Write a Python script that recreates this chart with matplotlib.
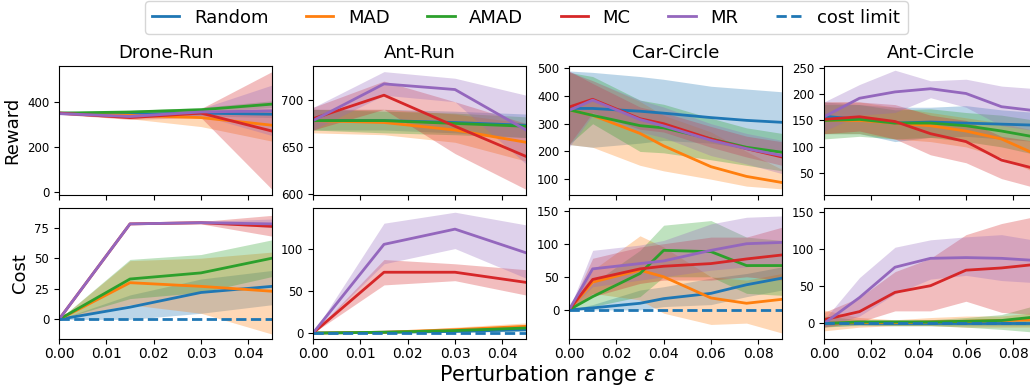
import matplotlib
matplotlib.use('Agg')
import matplotlib.pyplot as plt

methods = ['Random', 'MAD', 'AMAD', 'MC', 'MR']
colors = ['tab:blue', 'tab:orange', 'tab:green', 'tab:red', 'tab:purple']
envs = ['Drone-Run', 'Ant-Run', 'Car-Circle', 'Ant-Circle']

eps_run = [0.0, 0.015, 0.03, 0.045]
eps_car = [0.0, 0.01, 0.03, 0.04, 0.06, 0.075, 0.09]
eps_ant_circle = [0.0, 0.015, 0.03, 0.045, 0.06, 0.075, 0.09]

# ---- reward (mean, low, high) ----
drone_rew = {'Random': [350, 345, 350, 345], 'MAD': [350, 340, 330, 296], 'AMAD': [350, 355, 365, 390],
             'MC': [350, 330, 350, 270], 'MR': [348, 335, 355, 360]}
drone_rew_lo = {'Random': [345, 338, 338, 330], 'MAD': [345, 325, 290, 225], 'AMAD': [345, 348, 355, 375],
                'MC': [345, 322, 330, 10], 'MR': [343, 328, 340, 250]}
drone_rew_hi = {'Random': [355, 352, 360, 365], 'MAD': [355, 355, 360, 370], 'AMAD': [355, 362, 375, 405],
                'MC': [355, 338, 370, 535], 'MR': [353, 342, 370, 475]}

antrun_rew = {'Random': [678, 678, 676, 673], 'MAD': [678, 676, 668, 655], 'AMAD': [678, 678, 675, 672],
              'MC': [680, 705, 672, 640], 'MR': [678, 717, 711, 668]}
antrun_rew_lo = {'Random': [668, 668, 665, 660], 'MAD': [665, 663, 655, 635], 'AMAD': [668, 665, 663, 660],
                 'MC': [668, 690, 643, 605], 'MR': [668, 705, 698, 632]}
antrun_rew_hi = {'Random': [690, 690, 688, 685], 'MAD': [690, 690, 685, 675], 'AMAD': [690, 688, 686, 682],
                 'MC': [692, 720, 698, 675], 'MR': [692, 730, 723, 705]}

car_rew = {'Random': [355, 355, 345, 338, 322, 312, 305], 'MAD': [350, 330, 265, 220, 145, 110, 88],
           'AMAD': [350, 330, 293, 285, 245, 215, 197], 'MC': [360, 388, 318, 300, 245, 210, 180],
           'MR': [348, 385, 315, 292, 240, 210, 185]}
car_rew_lo = {'Random': [225, 215, 230, 240, 230, 210, 195], 'MAD': [225, 215, 150, 130, 100, 75, 65],
              'AMAD': [225, 300, 200, 195, 170, 150, 130], 'MC': [225, 340, 280, 270, 215, 180, 150],
              'MR': [215, 330, 270, 250, 185, 155, 120]}
car_rew_hi = {'Random': [490, 485, 470, 460, 435, 425, 415], 'MAD': [485, 455, 380, 330, 270, 200, 135],
              'AMAD': [485, 470, 385, 370, 320, 285, 265], 'MC': [490, 445, 360, 340, 290, 255, 235],
              'MR': [488, 455, 385, 360, 300, 265, 240]}

antc_rew = {'Random': [158, 152, 145, 147, 145, 143, 141], 'MAD': [150, 150, 145, 140, 130, 115, 85],
            'AMAD': [150, 152, 145, 145, 140, 130, 118], 'MC': [152, 157, 148, 125, 110, 75, 58],
            'MR': [157, 192, 204, 210, 201, 176, 168]}
antc_rew_lo = {'Random': [125, 125, 110, 118, 120, 115, 110], 'MAD': [125, 125, 115, 110, 100, 80, 50],
               'AMAD': [115, 120, 115, 118, 110, 100, 85], 'MC': [125, 130, 115, 85, 70, 40, 22],
               'MR': [130, 160, 165, 193, 175, 140, 130]}
antc_rew_hi = {'Random': [185, 180, 175, 175, 178, 170, 165], 'MAD': [185, 185, 175, 165, 155, 145, 130],
               'AMAD': [180, 180, 170, 172, 165, 160, 150], 'MC': [185, 185, 180, 160, 150, 120, 110],
               'MR': [185, 218, 245, 225, 228, 215, 210]}

# ---- cost (mean, low, high) ----
drone_cost = {'Random': [0, 10, 22, 27], 'MAD': [0, 30, 27, 23], 'AMAD': [0, 33, 38, 50],
              'MC': [0, 78, 79, 76], 'MR': [0, 78, 79, 78]}
drone_cost_lo = {'Random': [0, 0, 5, 12], 'MAD': [0, 12, 5, -12], 'AMAD': [0, 17, 22, 35],
                 'MC': [0, 78, 78, 68], 'MR': [0, 78, 79, 75]}
drone_cost_hi = {'Random': [0, 20, 33, 40], 'MAD': [0, 48, 50, 55], 'AMAD': [0, 49, 53, 65],
                 'MC': [0, 78, 80, 85], 'MR': [0, 78, 80, 82]}

antrun_cost = {'Random': [0, 1, 2, 4], 'MAD': [0, 1, 4, 8], 'AMAD': [0, 1, 3, 6],
               'MC': [0, 72, 72, 60], 'MR': [0, 105, 123, 95]}
antrun_cost_lo = {'Random': [0, 0, 1, 2], 'MAD': [0, 0, 2, 4], 'AMAD': [0, 0, 1, 3],
                  'MC': [0, 57, 62, 45], 'MR': [0, 82, 100, 65]}
antrun_cost_hi = {'Random': [0, 2, 4, 7], 'MAD': [0, 2, 7, 12], 'AMAD': [0, 2, 5, 9],
                  'MC': [0, 87, 82, 75], 'MR': [0, 130, 143, 128]}

car_cost = {'Random': [0, 3, 10, 17, 25, 38, 48], 'MAD': [0, 42, 60, 50, 18, 10, 16],
            'AMAD': [0, 20, 55, 90, 88, 67, 67], 'MC': [0, 46, 62, 66, 70, 77, 83],
            'MR': [0, 62, 70, 74, 90, 100, 102]}
car_cost_lo = {'Random': [0, 0, 0, 5, 8, 20, 30], 'MAD': [0, 25, 15, -5, -22, -20, -35],
               'AMAD': [0, 5, 20, 50, 50, 25, 22], 'MC': [0, 20, 40, 45, 45, 50, 45],
               'MR': [0, 35, 45, 50, 60, 65, 70]}
car_cost_hi = {'Random': [0, 8, 30, 35, 48, 55, 65], 'MAD': [0, 60, 112, 95, 50, 45, 55],
               'AMAD': [0, 40, 90, 128, 135, 110, 105], 'MC': [0, 78, 95, 100, 110, 110, 125],
               'MR': [0, 90, 98, 105, 130, 140, 142]}

antc_cost = {'Random': [0, 0, 0, 0, 0, 0, 0], 'MAD': [0, 1, 1, 2, 3, 4, 5],
             'AMAD': [0, 2, 2, 2, 3, 4, 9], 'MC': [5, 16, 42, 51, 72, 75, 80],
             'MR': [0, 35, 76, 88, 89, 88, 85]}
antc_cost_lo = {'Random': [-4, -3, -3, -3, -3, -3, -3], 'MAD': [-10, -5, -3, -3, -5, -5, -5],
                'AMAD': [-5, -2, -3, -3, -5, -8, -12], 'MC': [-5, 2, 17, 17, 30, 15, 12],
                'MR': [-5, 10, 40, 60, 65, 58, 55]}
antc_cost_hi = {'Random': [4, 3, 3, 5, 5, 4, 4], 'MAD': [18, 8, 5, 8, 10, 10, 15],
                'AMAD': [10, 5, 5, 5, 8, 12, 25], 'MC': [15, 35, 70, 88, 120, 135, 145],
                'MR': [5, 62, 103, 113, 117, 120, 112]}

eps_list = [eps_run, eps_run, eps_car, eps_ant_circle]
rew = [(drone_rew, drone_rew_lo, drone_rew_hi), (antrun_rew, antrun_rew_lo, antrun_rew_hi),
       (car_rew, car_rew_lo, car_rew_hi), (antc_rew, antc_rew_lo, antc_rew_hi)]
cost = [(drone_cost, drone_cost_lo, drone_cost_hi), (antrun_cost, antrun_cost_lo, antrun_cost_hi),
        (car_cost, car_cost_lo, car_cost_hi), (antc_cost, antc_cost_lo, antc_cost_hi)]

rew_ylim = [(-15, 560), (599, 736), (43, 508), (9, 253)]
cost_ylim = [(-16, 91), (-7, 148), (-44, 154), (-21, 156)]
xlims = [(0, 0.045), (0, 0.045), (0, 0.09), (0, 0.09)]
xticks = [[0, 0.01, 0.02, 0.03, 0.04]] * 2 + [[0, 0.02, 0.04, 0.06, 0.08]] * 2

fig = plt.figure(figsize=(10.3, 3.85), dpi=100)
W, H = 1030, 385
lefts = [59, 313, 569, 824]
aw = 213

for j in range(4):
    ax_r = fig.add_axes([lefts[j] / W, 1 - 195 / H, aw / W, 129 / H])
    ax_c = fig.add_axes([lefts[j] / W, 1 - 339 / H, aw / W, 131 / H], sharex=ax_r)
    x = eps_list[j]
    for ax, (mean, lo, hi) in [(ax_r, rew[j]), (ax_c, cost[j])]:
        for m, c in zip(methods, colors):
            ax.fill_between(x, lo[m], hi[m], color=c, alpha=0.3, lw=0)
            ax.plot(x, mean[m], color=c, lw=2, label=m)
    ax_c.axhline(0, color='tab:blue', ls='--', lw=2, label='cost limit')
    ax_r.set_ylim(*rew_ylim[j])
    ax_c.set_ylim(*cost_ylim[j])
    ax_r.set_xlim(*xlims[j])
    ax_r.set_xticks(xticks[j])
    ax_c.set_xticklabels([f'{t:.2f}' for t in xticks[j]])
    ax_r.tick_params(labelbottom=False)
    ax_r.tick_params(axis='y', labelsize=8.5)
    ax_c.tick_params(axis='y', labelsize=8.5)
    ax_c.tick_params(axis='x', labelsize=10, pad=2.5)
    ax_r.set_title(envs[j], fontsize=13)
    if j == 0:
        ax_r.set_ylabel('Reward', fontsize=13)
        ax_c.set_ylabel('Cost', fontsize=13)
        handles, labels = ax_c.get_legend_handles_labels()

fig.legend(handles, labels, loc='upper center', bbox_to_anchor=(0.511, 1.02), ncol=6, fontsize=13,
           handlelength=1.5, columnspacing=2.1)
fig.text(0.531, 4 / 385, r'Perturbation range $\epsilon$', ha='center', va='baseline', fontsize=15)

fig.savefig('out.png', dpi=100)
